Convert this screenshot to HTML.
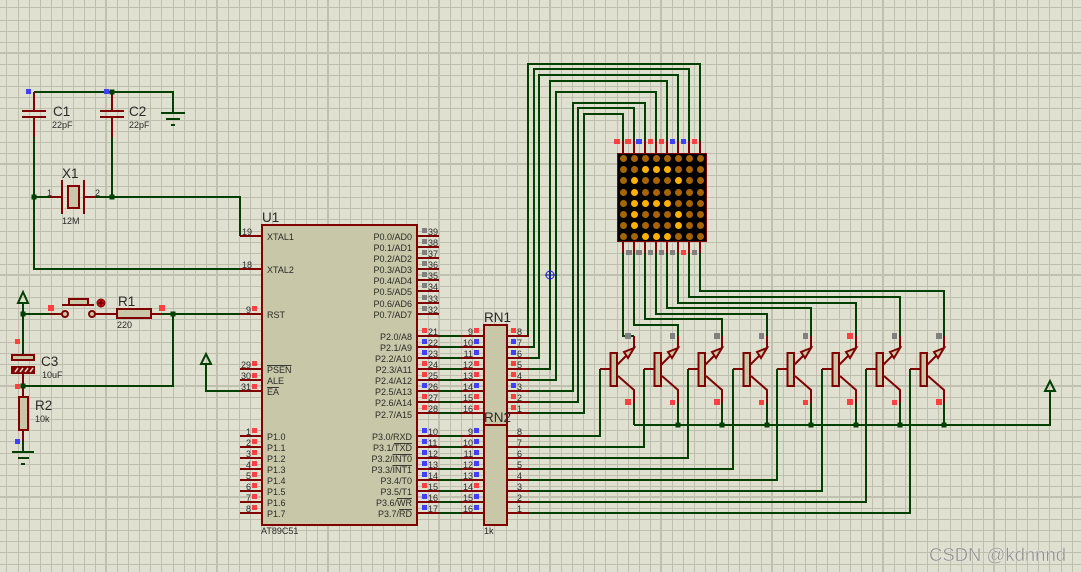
<!DOCTYPE html>
<html><head><meta charset="utf-8"><title>AT89C51 schematic</title>
<style>
html,body{margin:0;padding:0;background:#e0e0d1}
svg{display:block}
text{font-family:"Liberation Sans",sans-serif;fill:#2a2a2a;font-size:9px}
.l{font-size:13.5px}
.e{text-anchor:end}
.s{font-size:9px}
.o{text-decoration:overline}
</style></head><body>
<svg xmlns="http://www.w3.org/2000/svg" xmlns:xlink="http://www.w3.org/1999/xlink" width="1081" height="572" viewBox="0 0 1081 572">
<defs>
<g id="q">
<path d="M0 336V348M-17 365L0 348M-16 376L0 390V403M-34 369H-24" fill="none" stroke="#800000" stroke-width="2"/>
<path d="M0 348L-10 352L-6 358Z" fill="#c8c8a8" stroke="#800000" stroke-width="2"/>
<rect x="-23.5" y="353" width="6.500" height="33" fill="#c8c8a8" stroke="#800000" stroke-width="2"/>
<path d="M0 403V425" fill="none" stroke="#004000" stroke-width="2"/>
</g>
</defs>
<rect width="1081" height="572" fill="#e0e0d1"/>
<path shape-rendering="crispEdges" stroke="#bfbfaf" stroke-width="1" fill="none" d="M6.500 0V572M18.500 0V572M29.500 0V572M40.500 0V572M51.500 0V572M62.500 0V572M73.500 0V572M84.500 0V572M95.500 0V572M117.500 0V572M128.500 0V572M139.500 0V572M150.500 0V572M161.500 0V572M173.500 0V572M184.500 0V572M195.500 0V572M206.500 0V572M228.500 0V572M239.500 0V572M250.500 0V572M261.500 0V572M272.500 0V572M284.500 0V572M295.500 0V572M306.500 0V572M317.500 0V572M339.500 0V572M350.500 0V572M361.500 0V572M372.500 0V572M383.500 0V572M395.500 0V572M406.500 0V572M417.500 0V572M428.500 0V572M450.500 0V572M461.500 0V572M472.500 0V572M483.500 0V572M494.500 0V572M506.500 0V572M517.500 0V572M528.500 0V572M539.500 0V572M561.500 0V572M572.500 0V572M583.500 0V572M594.500 0V572M605.500 0V572M617.500 0V572M628.500 0V572M639.500 0V572M650.500 0V572M672.500 0V572M683.500 0V572M694.500 0V572M705.500 0V572M716.500 0V572M728.500 0V572M739.500 0V572M750.500 0V572M761.500 0V572M783.500 0V572M794.500 0V572M805.500 0V572M816.500 0V572M827.500 0V572M839.500 0V572M850.500 0V572M861.500 0V572M872.500 0V572M894.500 0V572M905.500 0V572M916.500 0V572M927.500 0V572M938.500 0V572M950.500 0V572M961.500 0V572M972.500 0V572M983.500 0V572M1005.500 0V572M1016.500 0V572M1027.500 0V572M1038.500 0V572M1049.500 0V572M1061.500 0V572M1072.500 0V572
M0 7.500H1081M0 20.500H1081M0 31.500H1081M0 42.500H1081M0 64.500H1081M0 75.500H1081M0 86.500H1081M0 97.500H1081M0 108.500H1081M0 120.500H1081M0 131.500H1081M0 142.500H1081M0 153.500H1081M0 175.500H1081M0 186.500H1081M0 197.500H1081M0 208.500H1081M0 219.500H1081M0 231.500H1081M0 242.500H1081M0 253.500H1081M0 264.500H1081M0 286.500H1081M0 297.500H1081M0 308.500H1081M0 319.500H1081M0 330.500H1081M0 342.500H1081M0 353.500H1081M0 364.500H1081M0 375.500H1081M0 397.500H1081M0 408.500H1081M0 419.500H1081M0 430.500H1081M0 441.500H1081M0 453.500H1081M0 464.500H1081M0 475.500H1081M0 486.500H1081M0 508.500H1081M0 519.500H1081M0 530.500H1081M0 541.500H1081M0 552.500H1081M0 564.500H1081"/>
<path shape-rendering="crispEdges" stroke="#c0c0b0" stroke-width="2" fill="none" d="M106 0V572M217 0V572M328 0V572M439 0V572M550 0V572M661 0V572M772 0V572M883 0V572M994 0V572M0 53H1081M0 164H1081M0 275H1081M0 386H1081M0 497H1081"/>

<!-- green wires -->
<g fill="none" stroke="#004000" stroke-width="2">
<path d="M34 137V269H240M34 92H173V113M112 92V111M112 137V197M34 197H50M96 197H240V236"/>
<path d="M161 113H185M166 119H180M171 125H175"/>
<path d="M23 303V354M23 314H50M162 314H240M173 314V386H23"/>
<path d="M23 303L18 303L23 292L28 303Z"/>
<path d="M206 364V391H240M206 364H201L206 354L211 364Z"/>
<path d="M23 441V452M12 452H34M18 458H29M21 464H25"/>
<path d="M439 336H461M439 347H461M439 358H461M439 369H461M439 380H461M439 391H461M439 402H461M439 413H461M439 436H461M439 447H461M439 458H461M439 469H461M439 480H461M439 491H461M439 502H461M439 513H461"/>
<path d="M529 336H528V64H700V141M529 347H534V69H689V141M529 358H539V75H678V141M529 369H550V81H667V141M529 380H556V92H656V141M529 391H573V103H645V141M529 402H578V108H634V141M529 413H584V114H623V141"/>
<path d="M623 253V336H634M634 253V325H678V336M645 253V319H722V336M656 253V314H767V336M667 253V308H811V336M678 253V303H856V336M689 253V297H900V336M700 253V291H944V336"/>
<path d="M529 436H600V369M529 447H644V369M529 458H688V369M529 469H733V369M529 480H777V369M529 491H822V369M529 502H866V369M529 513H910V369"/>
<path d="M634 425H1050V391M1050 391H1045L1050 381L1055 391Z"/>
</g>

<!-- transistors -->
<use xlink:href="#q" href="#q" x="634"/>
<use xlink:href="#q" href="#q" x="678"/>
<use xlink:href="#q" href="#q" x="722"/>
<use xlink:href="#q" href="#q" x="767"/>
<use xlink:href="#q" href="#q" x="811"/>
<use xlink:href="#q" href="#q" x="856"/>
<use xlink:href="#q" href="#q" x="900"/>
<use xlink:href="#q" href="#q" x="944"/>

<!-- red leads -->
<g fill="none" stroke="#800000" stroke-width="2">
<path d="M34 92V111M34 117V137M22 111H46M22 117H46M112 92V111M112 117V137M100 111H124M100 117H124"/>
<path d="M50 197H62M62 180V214M84 180V214M84 197H96M240 236H262M240 269H262"/>
<path d="M50 314H62M95 314H117M151 314H162M240 314H262M62 305H94M23 354V355M23 373V397M23 430V441"/>
<path d="M240 369H262M240 380H262M240 391H262M240 436H262M240 447H262M240 458H262M240 469H262M240 480H262M240 491H262M240 502H262M240 513H262"/>
<path d="M417 236H439M417 247H439M417 258H439M417 269H439M417 280H439M417 291H439M417 303H439M417 314H439"/>
<path d="M417 336H439M417 347H439M417 358H439M417 369H439M417 380H439M417 391H439M417 402H439M417 413H439M417 436H439M417 447H439M417 458H439M417 469H439M417 480H439M417 491H439M417 502H439M417 513H439"/>
<path d="M461 336H484M461 347H484M461 358H484M461 369H484M461 380H484M461 391H484M461 402H484M461 413H484M461 436H484M461 447H484M461 458H484M461 469H484M461 480H484M461 491H484M461 502H484M461 513H484"/>
<path d="M507 336H529M507 347H529M507 358H529M507 369H529M507 380H529M507 391H529M507 402H529M507 413H529M507 436H529M507 447H529M507 458H529M507 469H529M507 480H529M507 491H529M507 502H529M507 513H529"/>
<path d="M623 141V153M634 141V153M645 141V153M656 141V153M667 141V153M678 141V153M689 141V153M700 141V153M623 242V253M634 242V253M645 242V253M656 242V253M667 242V253M678 242V253M689 242V253M700 242V253"/>
</g>
<path d="M262 233L265 236L262 239" fill="none" stroke="#800000" stroke-width="2"/>

<!-- components -->
<g fill="#c8c8a8" stroke="#800000" stroke-width="2">
<rect x="68" y="186" width="11" height="22"/>
<rect x="117" y="309" width="34" height="9"/>
<rect x="69" y="299" width="19" height="6"/>
<circle cx="65" cy="314" r="3"/>
<circle cx="92" cy="314" r="3"/>
<rect x="12" y="355" width="22" height="5"/>
<rect x="12" y="367" width="22" height="6" fill="#800000"/>
<rect x="19" y="397" width="9" height="33"/>
<rect x="262" y="225" width="155" height="300"/>
<rect x="484" y="325" width="23" height="200"/>
</g>
<path d="M484 425H507" stroke="#800000" stroke-width="2"/>
<path d="M15 372L18 368M20 372L23 368M25 372L28 368M30 372L33 368" stroke="#e0e0d1" stroke-width="1.500"/>
<circle cx="101" cy="303" r="4" fill="#d01010" stroke="#800000"/>
<path d="M98 303H104M101 300V306" stroke="#400000" stroke-width="1"/>

<!-- junctions -->
<path fill="#004000" d="M109.500 89.500h5v5h-5zM31.500 194.500h5v5h-5zM109.500 194.500h5v5h-5zM20.500 311.500h5v5h-5zM170.500 311.500h5v5h-5zM20.500 383.500h5v5h-5zM675.500 422.500h5v5h-5zM719.500 422.500h5v5h-5zM764.500 422.500h5v5h-5zM808.500 422.500h5v5h-5zM853.500 422.500h5v5h-5zM897.500 422.500h5v5h-5zM941.500 422.500h5v5h-5z"/>

<!-- LED matrix -->
<rect x="617.500" y="153.500" width="89" height="88" fill="#000" stroke="#800000"/>
<g fill="#a86400">
<circle cx="623.500" cy="158.500" r="3.500"/><circle cx="634.500" cy="158.500" r="3.500"/><circle cx="645.500" cy="158.500" r="3.500"/><circle cx="656.500" cy="158.500" r="3.500"/><circle cx="667.500" cy="158.500" r="3.500"/><circle cx="678.500" cy="158.500" r="3.500"/><circle cx="689.500" cy="158.500" r="3.500"/><circle cx="700.500" cy="158.500" r="3.500"/>
<circle cx="623.500" cy="169.500" r="3.500"/><circle cx="634.500" cy="169.500" r="3.500"/><circle cx="678.500" cy="169.500" r="3.500"/><circle cx="689.500" cy="169.500" r="3.500"/><circle cx="700.500" cy="169.500" r="3.500"/>
<circle cx="623.500" cy="180.500" r="3.500"/><circle cx="645.500" cy="180.500" r="3.500"/><circle cx="656.500" cy="180.500" r="3.500"/><circle cx="667.500" cy="180.500" r="3.500"/><circle cx="689.500" cy="180.500" r="3.500"/><circle cx="700.500" cy="180.500" r="3.500"/>
<circle cx="623.500" cy="192.500" r="3.500"/><circle cx="645.500" cy="192.500" r="3.500"/><circle cx="656.500" cy="192.500" r="3.500"/><circle cx="667.500" cy="192.500" r="3.500"/><circle cx="678.500" cy="192.500" r="3.500"/><circle cx="689.500" cy="192.500" r="3.500"/><circle cx="700.500" cy="192.500" r="3.500"/>
<circle cx="623.500" cy="203.500" r="3.500"/><circle cx="678.500" cy="203.500" r="3.500"/><circle cx="689.500" cy="203.500" r="3.500"/><circle cx="700.500" cy="203.500" r="3.500"/>
<circle cx="623.500" cy="214.500" r="3.500"/><circle cx="645.500" cy="214.500" r="3.500"/><circle cx="656.500" cy="214.500" r="3.500"/><circle cx="667.500" cy="214.500" r="3.500"/><circle cx="689.500" cy="214.500" r="3.500"/><circle cx="700.500" cy="214.500" r="3.500"/>
<circle cx="623.500" cy="225.500" r="3.500"/><circle cx="645.500" cy="225.500" r="3.500"/><circle cx="656.500" cy="225.500" r="3.500"/><circle cx="667.500" cy="225.500" r="3.500"/><circle cx="689.500" cy="225.500" r="3.500"/><circle cx="700.500" cy="225.500" r="3.500"/>
<circle cx="623.500" cy="236.500" r="3.500"/><circle cx="634.500" cy="236.500" r="3.500"/><circle cx="678.500" cy="236.500" r="3.500"/><circle cx="689.500" cy="236.500" r="3.500"/><circle cx="700.500" cy="236.500" r="3.500"/>
</g>
<g fill="#ffb000">
<circle cx="645.500" cy="169.500" r="3.500"/><circle cx="656.500" cy="169.500" r="3.500"/><circle cx="667.500" cy="169.500" r="3.500"/>
<circle cx="634.500" cy="180.500" r="3.500"/><circle cx="678.500" cy="180.500" r="3.500"/>
<circle cx="634.500" cy="192.500" r="3.500"/>
<circle cx="634.500" cy="203.500" r="3.500"/><circle cx="645.500" cy="203.500" r="3.500"/><circle cx="656.500" cy="203.500" r="3.500"/><circle cx="667.500" cy="203.500" r="3.500"/>
<circle cx="634.500" cy="214.500" r="3.500"/><circle cx="678.500" cy="214.500" r="3.500"/>
<circle cx="634.500" cy="225.500" r="3.500"/><circle cx="678.500" cy="225.500" r="3.500"/>
<circle cx="645.500" cy="236.500" r="3.500"/><circle cx="656.500" cy="236.500" r="3.500"/><circle cx="667.500" cy="236.500" r="3.500"/>
</g>

<!-- logic probes -->
<path fill="#ff4040" d="M48 305h6v6h-6zM159 305h6v6h-6zM252 306h5v5h-5zM15 339h5v5h-5zM15 384h5v5h-5z
M252 361h5v5h-5zM252 373h5v5h-5zM252 384h5v5h-5zM252 428h5v5h-5zM252 439h5v5h-5zM252 450h5v5h-5zM252 461h5v5h-5zM252 472h5v5h-5zM252 483h5v5h-5zM252 494h5v5h-5zM252 505h5v5h-5z
M422 328h5v5h-5zM422 361h5v5h-5zM422 372h5v5h-5zM422 394h5v5h-5zM422 405h5v5h-5zM422 483h5v5h-5z
M474 328h5v5h-5zM474 361h5v5h-5zM474 372h5v5h-5zM474 394h5v5h-5zM474 405h5v5h-5zM474 483h5v5h-5z
M511 328h5v5h-5zM511 361h5v5h-5zM511 372h5v5h-5zM511 394h5v5h-5zM511 405h5v5h-5z
M614 139h6v5h-6zM625 139h6v5h-6zM648 139h5v5h-5zM659 139h5v5h-5zM692 139h5v5h-5zM681 250h5v5h-5z
M625 399h6v6h-6zM670 400h5v5h-5zM714 399h6v6h-6zM759 400h5v5h-5zM803 400h5v5h-5zM847 399h6v6h-6zM892 400h5v5h-5zM936 399h6v6h-6zM847 333h6v6h-6z"/>
<path fill="#4040ff" d="M26 89h5v5h-5zM104 89h5v5h-5zM15 439h5v5h-5z
M422 339h5v5h-5zM422 350h5v5h-5zM422 383h5v5h-5zM474 339h5v5h-5zM474 350h5v5h-5zM474 383h5v5h-5zM511 339h5v5h-5zM511 350h5v5h-5zM511 383h5v5h-5z
M422 428h5v5h-5zM422 439h5v5h-5zM422 450h5v5h-5zM422 461h5v5h-5zM422 472h5v5h-5zM422 494h5v5h-5zM422 505h5v5h-5z
M474 428h5v5h-5zM474 439h5v5h-5zM474 450h5v5h-5zM474 461h5v5h-5zM474 472h5v5h-5zM474 494h5v5h-5zM474 505h5v5h-5z
M636 139h6v5h-6zM670 139h5v5h-5zM681 139h5v5h-5z"/>
<path fill="#808080" d="M422 228h5v5h-5zM422 239h5v5h-5zM422 250h5v5h-5zM422 261h5v5h-5zM422 272h5v5h-5zM422 283h5v5h-5zM422 295h5v5h-5zM422 306h5v5h-5z
M626 250h6v5h-6zM636 250h6v5h-6zM648 250h5v5h-5zM659 250h5v5h-5zM670 250h5v5h-5zM692 250h5v5h-5z
M625 333h6v6h-6zM670 333h5v6h-5zM714 333h6v6h-6zM759 333h5v6h-5zM803 333h5v6h-5zM892 333h5v6h-5zM936 333h6v6h-6z"/>

<circle cx="550" cy="275" r="4" fill="none" stroke="#2020c0"/>
<path d="M545 275H555M550 270V280" stroke="#2020c0" stroke-width="1"/>

<!-- text -->
<text class="l" x="53" y="116">C1</text><text x="52" y="128">22pF</text>
<text class="l" x="129" y="116">C2</text><text x="129" y="128">22pF</text>
<text class="l" x="62" y="178">X1</text><text x="62" y="224">12M</text>
<text x="47" y="196">1</text><text x="95" y="196">2</text>
<text class="l" x="118" y="306">R1</text><text x="117" y="328">220</text>
<text class="l" x="41" y="366">C3</text><text x="42" y="378">10uF</text>
<text class="l" x="35" y="410">R2</text><text x="35" y="422">10k</text>
<text class="l" x="262" y="222">U1</text><text class="s" x="261" y="534">AT89C51</text>
<text class="l" x="484" y="322">RN1</text><text class="l" x="484" y="422">RN2</text><text class="s" x="484" y="534">1k</text>

<text x="267" y="240">XTAL1</text><text x="267" y="273">XTAL2</text><text x="267" y="318">RST</text>
<text x="267" y="373"><tspan class="o">PSEN</tspan></text><text x="267" y="384">ALE</text><text x="267" y="395"><tspan class="o">EA</tspan></text>
<text x="267" y="440">P1.0</text><text x="267" y="451">P1.1</text><text x="267" y="462">P1.2</text><text x="267" y="473">P1.3</text><text x="267" y="484">P1.4</text><text x="267" y="495">P1.5</text><text x="267" y="506">P1.6</text><text x="267" y="517">P1.7</text>

<g class="e">
<text class="e" x="412" y="240">P0.0/AD0</text><text class="e" x="412" y="251">P0.1/AD1</text><text class="e" x="412" y="262">P0.2/AD2</text><text class="e" x="412" y="273">P0.3/AD3</text><text class="e" x="412" y="284">P0.4/AD4</text><text class="e" x="412" y="295">P0.5/AD5</text><text class="e" x="412" y="307">P0.6/AD6</text><text class="e" x="412" y="318">P0.7/AD7</text>
<text class="e" x="412" y="340">P2.0/A8</text><text class="e" x="412" y="351">P2.1/A9</text><text class="e" x="412" y="362">P2.2/A10</text><text class="e" x="412" y="373">P2.3/A11</text><text class="e" x="412" y="384">P2.4/A12</text><text class="e" x="412" y="395">P2.5/A13</text><text class="e" x="412" y="406">P2.6/A14</text><text class="e" x="412" y="418">P2.7/A15</text>
<text class="e" x="412" y="440">P3.0/RXD</text><text class="e" x="412" y="451">P3.1/<tspan class="o">TXD</tspan></text><text class="e" x="412" y="462">P3.2/<tspan class="o">INT0</tspan></text><text class="e" x="412" y="473">P3.3/<tspan class="o">INT1</tspan></text><text class="e" x="412" y="484">P3.4/T0</text><text class="e" x="412" y="495">P3.5/T1</text><text class="e" x="412" y="506">P3.6/<tspan class="o">WR</tspan></text><text class="e" x="412" y="517">P3.7/<tspan class="o">RD</tspan></text>
</g>

<text x="242" y="235">19</text><text x="242" y="268">18</text><text x="246" y="313">9</text>
<text x="241" y="368">29</text><text x="241" y="379">30</text><text x="241" y="390">31</text>
<text x="246" y="435">1</text><text x="246" y="446">2</text><text x="246" y="457">3</text><text x="246" y="468">4</text><text x="246" y="479">5</text><text x="246" y="490">6</text><text x="246" y="501">7</text><text x="246" y="512">8</text>

<text x="428" y="235">39</text><text x="428" y="246">38</text><text x="428" y="257">37</text><text x="428" y="268">36</text><text x="428" y="279">35</text><text x="428" y="290">34</text><text x="428" y="302">33</text><text x="428" y="313">32</text>
<text x="428" y="335">21</text><text x="428" y="346">22</text><text x="428" y="357">23</text><text x="428" y="368">24</text><text x="428" y="379">25</text><text x="428" y="390">26</text><text x="428" y="401">27</text><text x="428" y="412">28</text>
<text x="428" y="435">10</text><text x="428" y="446">11</text><text x="428" y="457">12</text><text x="428" y="468">13</text><text x="428" y="479">14</text><text x="428" y="490">15</text><text x="428" y="501">16</text><text x="428" y="512">17</text>

<text class="e" x="473" y="335">9</text><text class="e" x="473" y="346">10</text><text class="e" x="473" y="357">11</text><text class="e" x="473" y="368">12</text><text class="e" x="473" y="379">13</text><text class="e" x="473" y="390">14</text><text class="e" x="473" y="401">15</text><text class="e" x="473" y="412">16</text>
<text class="e" x="473" y="435">9</text><text class="e" x="473" y="446">10</text><text class="e" x="473" y="457">11</text><text class="e" x="473" y="468">12</text><text class="e" x="473" y="479">13</text><text class="e" x="473" y="490">14</text><text class="e" x="473" y="501">15</text><text class="e" x="473" y="512">16</text>

<text x="517" y="335">8</text><text x="517" y="346">7</text><text x="517" y="357">6</text><text x="517" y="368">5</text><text x="517" y="379">4</text><text x="517" y="390">3</text><text x="517" y="401">2</text><text x="517" y="412">1</text>
<text x="517" y="435">8</text><text x="517" y="446">7</text><text x="517" y="457">6</text><text x="517" y="468">5</text><text x="517" y="479">4</text><text x="517" y="490">3</text><text x="517" y="501">2</text><text x="517" y="512">1</text>

<text x="929" y="561" style="font-size:18.500px;fill:#8f8f8f;stroke:#f4f4f0;stroke-width:.3">CSDN @kdnnnd</text>
</svg>
</body></html>
